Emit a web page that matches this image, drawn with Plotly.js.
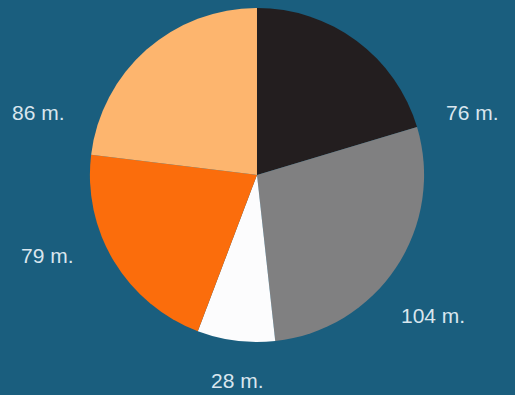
<!DOCTYPE html>
<html>
<head>
<meta charset="utf-8">
<script src="https://cdn.plot.ly/plotly-3.0.1.min.js"></script>
<style>html,body{margin:0;padding:0;background:#1a5e7e;}</style>
</head>
<body>
<div id="chart" style="width:515px;height:395px;"></div>
<script>
const categories = ["A", "B", "C", "D", "E"];
const values = [76, 104, 28, 79, 86];
const unitSuffix = " m.";
const sliceColors = ["#231e1f", "#808081", "#fcfcfd", "#fb6d0c", "#fdb56e"];

// label anchor positions (layout only, in pixels of the 515x395 canvas)
const labelPixelPos = [[472, 113], [433, 315], [237, 380], [47, 255], [38, 113]];

const W = 515, H = 395;
const annotations = values.map((v, i) => ({
  xref: "paper", yref: "paper",
  x: labelPixelPos[i][0] / W,
  y: 1 - labelPixelPos[i][1] / H,
  xanchor: "center", yanchor: "middle",
  text: v + unitSuffix,
  showarrow: false,
  font: {family: "Liberation Sans, Arial, sans-serif", size: 21, color: "#d9e6ee"}
}));

Plotly.newPlot("chart", [{
  type: "pie",
  labels: categories,
  values: values,
  textinfo: "none",
  sort: false,
  direction: "clockwise",
  rotation: 0,
  marker: {colors: sliceColors, line: {width: 0}},
  domain: {x: [0, 0.998], y: [0.134, 0.98]},
  hoverinfo: "none",
  showlegend: false
}], {
  width: W, height: H,
  margin: {l: 0, r: 0, t: 0, b: 0},
  paper_bgcolor: "#1a5e7e",
  plot_bgcolor: "#1a5e7e",
  showlegend: false,
  annotations: annotations
}, {displayModeBar: false, staticPlot: true});
</script>
</body>
</html>
